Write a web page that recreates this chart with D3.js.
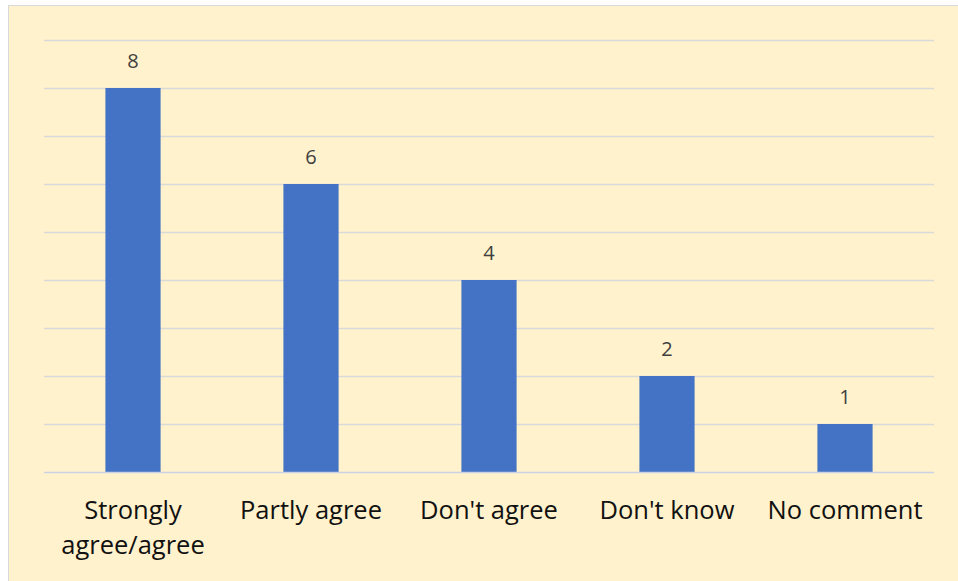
<!DOCTYPE html>
<html>
<head>
<meta charset="utf-8">
<script src="https://cdn.jsdelivr.net/npm/d3@7"></script>
<style>
  html, body { margin: 0; padding: 0; background: #fff; }
  svg { display: block; }
</style>
</head>
<body>
<svg id="chart" width="958" height="581"></svg>
<script>
const categories = [['Strongly', 'agree/agree'], ['Partly agree'], ["Don't agree"], ["Don't know"], ['No comment']];
const values = [8, 6, 4, 2, 1];
const gridTicks = [0, 1, 2, 3, 4, 5, 6, 7, 8, 9];

const svg = d3.select('#chart');
const W = 958, H = 581;
const margin = { top: 40, right: 24, bottom: 109, left: 44 };
const width = W - margin.left - margin.right;
const height = H - margin.top - margin.bottom;
const font = '"Open Sans", "Liberation Sans", sans-serif';

// chart background
svg.append('rect')
  .attr('x', 8.5).attr('y', 5.5)
  .attr('width', W - 8).attr('height', H - 5)
  .attr('fill', '#FFF2CC')
  .attr('stroke', '#D9D9D9');

const g = svg.append('g').attr('transform', `translate(${margin.left},${margin.top})`);

const x = d3.scaleBand()
  .domain(d3.range(values.length))
  .range([0, width])
  .paddingInner(0.69)
  .paddingOuter(0.345);

const y = d3.scaleLinear().domain([0, 9]).range([height, 0]);

// gridlines
g.append('g')
  .selectAll('line')
  .data(gridTicks.slice(1))
  .enter().append('line')
  .attr('x1', 0).attr('x2', width)
  .attr('y1', d => Math.round(y(d)) + 0.5)
  .attr('y2', d => Math.round(y(d)) + 0.5)
  .attr('stroke', '#D9D9D9')
  .attr('stroke-width', 1.3);

// bars
g.append('g')
  .selectAll('rect')
  .data(values)
  .enter().append('rect')
  .attr('x', (d, i) => x(i))
  .attr('y', d => y(d))
  .attr('width', x.bandwidth())
  .attr('height', d => height - y(d))
  .attr('fill', '#4472C4');

// x axis line
g.append('line')
  .attr('x1', 0).attr('x2', width)
  .attr('y1', height + 0.5).attr('y2', height + 0.5)
  .attr('stroke', '#C9D3E3')
  .attr('stroke-width', 1.5);

// data labels
g.append('g')
  .selectAll('text')
  .data(values)
  .enter().append('text')
  .attr('x', (d, i) => x(i) + x.bandwidth() / 2)
  .attr('y', d => y(d) - 20)
  .attr('text-anchor', 'middle')
  .attr('font-family', font)
  .attr('font-size', 20)
  .attr('fill', '#404040')
  .text(d => d);

// category labels
const lab = g.append('g')
  .selectAll('text')
  .data(categories)
  .enter().append('text')
  .attr('x', (d, i) => x(i) + x.bandwidth() / 2)
  .attr('y', height + 47)
  .attr('text-anchor', 'middle')
  .attr('font-family', font)
  .attr('font-size', 25.5)
  .attr('fill', '#111');

lab.selectAll('tspan')
  .data(d => d)
  .enter().append('tspan')
  .attr('x', function() { return d3.select(this.parentNode).attr('x'); })
  .attr('dy', (d, i) => i === 0 ? 0 : 35)
  .text(d => d);
</script>
</body>
</html>
